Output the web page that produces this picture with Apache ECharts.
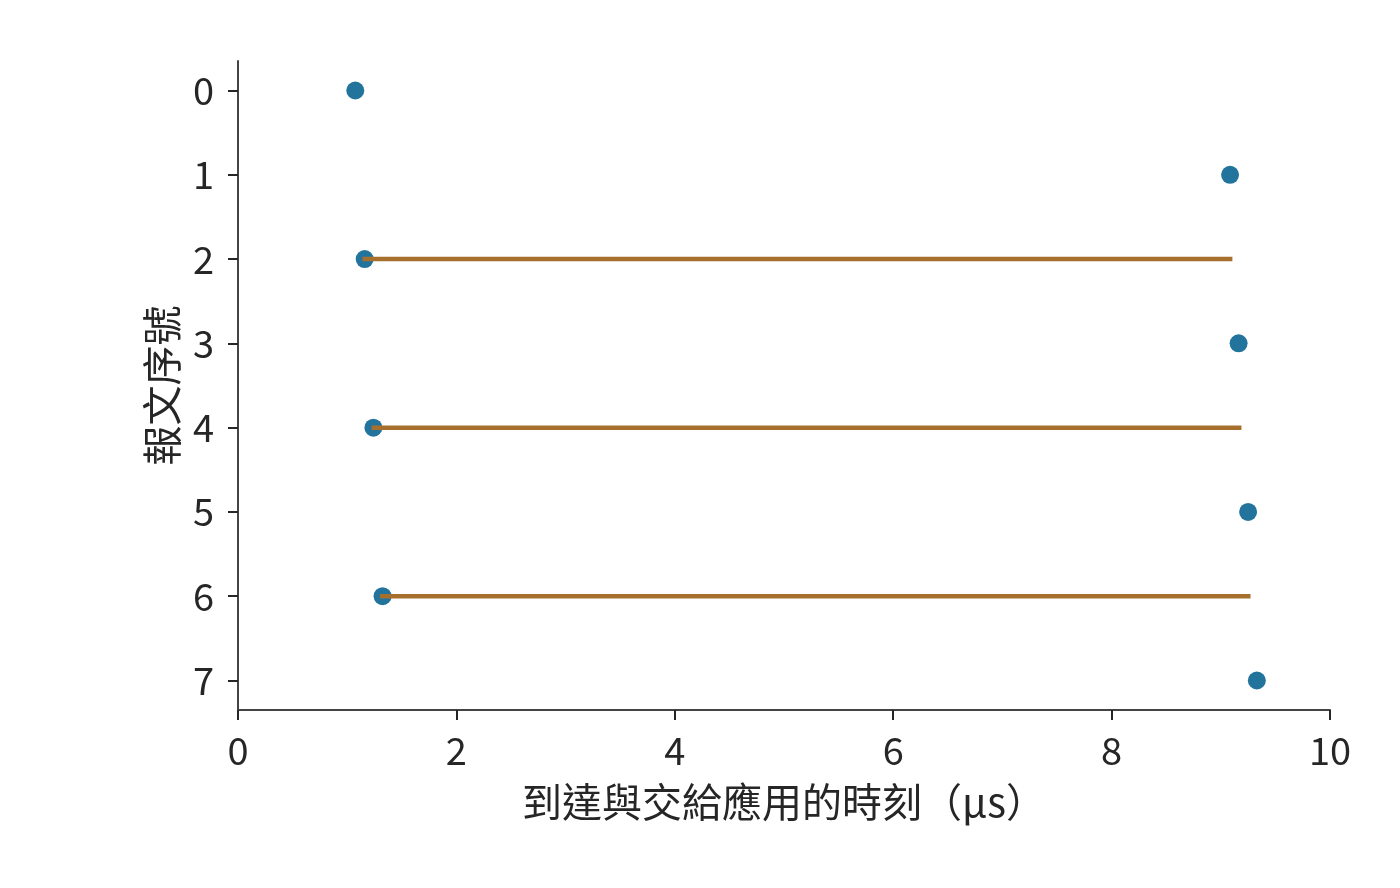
<!DOCTYPE html>
<html>
<head>
<meta charset="utf-8">
<script src="https://cdn.jsdelivr.net/npm/echarts@6/dist/echarts.min.js"></script>
<style>
html,body{margin:0;padding:0;background:#fff;}
#chart{width:1400px;height:888px;}
</style>
</head>
<body>
<div id="chart"></div>
<script>
// Message index (row) and arrival/delivery time (µs)
const msgIndex = [0, 1, 2, 3, 4, 5, 6, 7];
const msgTime = [1.074, 9.085, 1.160, 9.163, 1.240, 9.250, 1.324, 9.330];
// Waiting segments
const segRow = [2, 4, 6];
const segStart = [1.14, 1.224, 1.30];
const segEnd = [9.106, 9.189, 9.272];
const yTicks = [0, 1, 2, 3, 4, 5, 6, 7];
const xTicks = [0, 2, 4, 6, 8, 10];

const FONT = '"Noto Sans CJK TC", "Noto Sans", sans-serif';
const chart = echarts.init(document.getElementById('chart'));

const pointData = msgIndex.map((r, i) => [msgTime[i], r]);
const segData = segRow.map((r, i) => [segStart[i], segEnd[i], r]);

chart.setOption({
  backgroundColor: '#ffffff',
  animation: false,
  grid: { left: 238, right: 70, top: 61, bottom: 178, containLabel: false },
  xAxis: {
    type: 'value', min: 0, max: 10, interval: 2,
    name: '到達與交給應用的時刻（μs）',
    nameLocation: 'middle', nameGap: 72,
    nameTextStyle: { fontFamily: FONT, fontSize: 40, color: '#262626' },
    axisLine: { show: true, onZero: false, lineStyle: { color: '#444444', width: 2 } },
    axisTick: { show: true, length: 10, lineStyle: { color: '#262626', width: 2 } },
    axisLabel: { fontFamily: FONT, fontSize: 38, color: '#262626', margin: 22 },
    splitLine: { show: false }
  },
  yAxis: {
    type: 'value', min: -0.35, max: 7.35, inverse: true,
    name: '報文序號',
    nameLocation: 'middle', nameGap: 55,
    nameTextStyle: { fontFamily: FONT, fontSize: 40, color: '#262626' },
    axisLine: { show: true, onZero: false, lineStyle: { color: '#444444', width: 2 } },
    axisTick: { show: true, length: 10, customValues: yTicks, lineStyle: { color: '#262626', width: 2 } },
    axisLabel: { fontFamily: FONT, fontSize: 38, color: '#262626', margin: 24, customValues: yTicks },
    splitLine: { show: false }
  },
  series: [
    {
      type: 'scatter',
      data: pointData,
      symbol: 'circle',
      symbolSize: 18,
      itemStyle: { color: '#23749c', opacity: 1 },
      z: 2
    },
    {
      type: 'custom',
      data: segData,
      z: 3,
      renderItem: function (params, api) {
        const p1 = api.coord([api.value(0), api.value(2)]);
        const p2 = api.coord([api.value(1), api.value(2)]);
        return {
          type: 'line',
          shape: { x1: p1[0], y1: p1[1], x2: p2[0], y2: p2[1] },
          style: { stroke: '#a66f2c', lineWidth: 4.5, lineCap: 'butt' }
        };
      }
    }
  ]
});
</script>
</body>
</html>
